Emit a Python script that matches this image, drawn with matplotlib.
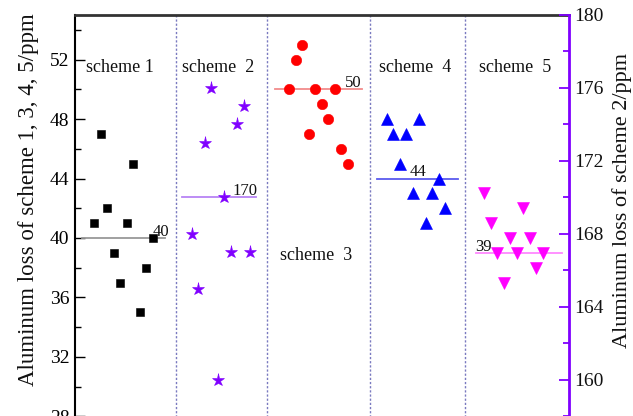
import numpy as np
import matplotlib
matplotlib.use("Agg")
import matplotlib.pyplot as plt
from matplotlib.ticker import MultipleLocator, FixedLocator

plt.rcParams['font.family'] = ['Liberation Serif', 'DejaVu Serif']

# Aluminum loss per sample (ppm); scheme 2 is read on the right axis
loss_s1 = [41, 47, 42, 39, 37, 41, 45, 35, 38, 40]
loss_s2 = [168, 165, 173, 176, 160, 170, 167, 174, 175, 167]
loss_s3 = [50, 52, 53, 47, 50, 49, 48, 50, 46, 45]
loss_s4 = [48, 47, 45, 47, 43, 48, 41, 43, 44, 42]
loss_s5 = [43, 41, 39, 37, 40, 39, 42, 40, 38, 39]

# Average value annotated for each scheme
mean_s1, mean_s2, mean_s3, mean_s4, mean_s5 = 40, 170, 50, 44, 39

scheme_names = ["scheme 1", "scheme  2", "scheme  3", "scheme  4", "scheme  5"]
left_ticks = [28, 32, 36, 40, 44, 48, 52]
right_ticks = [160, 164, 168, 172, 176, 180]

left_label = "Aluminum loss of scheme 1, 3, 4, 5/ppm"
right_label = "Aluminum loss of scheme 2/ppm"

W, H = 633, 416
fig = plt.figure(figsize=(W / 100, H / 100), dpi=100)
ax = fig.add_axes([75 / W, 1 - 461 / H, 493.5 / W, 446 / H])
ax2 = ax.twinx()

ax.set_xlim(0, 76)
ax.set_ylim(25, 55)
ax2.set_ylim(155.56, 180)

purple = '#8000ff'
series = [
    (ax, loss_s1, 's', 'black', 6.0, mean_s1, '#999999'),
    (ax2, loss_s2, '*', purple, 9.5, mean_s2, '#b784f5'),
    (ax, loss_s3, 'o', '#ff0000', 7.5, mean_s3, '#f28b8b'),
    (ax, loss_s4, '^', '#0000ff', 8.0, mean_s4, '#5a5aee'),
    (ax, loss_s5, 'v', '#ff00ff', 8.0, mean_s5, '#ff88ff'),
]

# each scheme occupies a block of 15 slots, 10 samples per block
line_spans = [(1.12, 13.86), (16.43, 27.83), (30.8, 44.24), (46.46, 59.02), (61.75, 74.95)]
label_x = [12.0, 24.3, 41.6, 51.6, 61.6]
for g, (a, vals, mk, col, ms, mval, lcol) in enumerate(series):
    xs = 3 + 15 * g + np.arange(len(vals))
    x0, x1 = line_spans[g]
    a.plot([x0, x1], [mval, mval], color=lcol, lw=1.3, zorder=2)
    a.plot(xs, vals, linestyle='none', marker=mk, color=col, markersize=ms,
           markeredgewidth=0.4, markeredgecolor=col, zorder=3)
    a.annotate(str(mval), xy=(label_x[g], mval), xytext=(0, 1.5),
               textcoords='offset points', ha='left', va='baseline',
               fontsize=12, color='#111111', zorder=4)

# dashed separators between schemes
for xv in [15.5, 29.5, 45.4, 60.0]:
    ax.axvline(xv, color='#7a7ac0', lw=1.0, linestyle=(0, (1.6, 1.4)), zorder=1)

# scheme captions
caption_pos = [(1.69, 51.19), (16.48, 51.19), (31.57, 38.55), (46.82, 51.19), (62.2, 51.19)]
for name, (cx, cy) in zip(scheme_names, caption_pos):
    ax.text(cx, cy, name, ha='left', va='baseline', fontsize=13, color='#111111')

# left axis
ax.yaxis.set_major_locator(FixedLocator(left_ticks))
ax.yaxis.set_minor_locator(MultipleLocator(2))
ax.tick_params(axis='y', which='major', direction='in', length=7, width=1.0,
               labelsize=14, pad=4)
ax.tick_params(axis='y', which='minor', direction='in', length=4, width=1.0)
ax.set_xticks([])
ax.spines['left'].set_linewidth(1.5)
ax.spines['top'].set_linewidth(2.0)
ax.spines['top'].set_color('#333333')
ax.spines['right'].set_visible(False)

# right axis
ax2.yaxis.set_major_locator(FixedLocator(right_ticks))
ax2.yaxis.set_minor_locator(MultipleLocator(2))
ax2.tick_params(axis='y', which='major', direction='in', length=7, width=1.3,
                color=purple, labelsize=14, labelcolor='#111111', pad=4)
ax2.tick_params(axis='y', which='minor', direction='in', length=4, width=1.3,
                color=purple)
ax2.spines['right'].set_color(purple)
ax2.spines['right'].set_linewidth(2.0)
ax2.spines['top'].set_visible(False)
ax2.spines['left'].set_visible(False)
ax2.spines['bottom'].set_visible(False)

fig.text(29 / W, 1 - 200 / H, left_label, rotation=90, ha='center', va='center',
         fontsize=16.5, color='#111111')
fig.text(622 / W, 1 - 200 / H, right_label, rotation=90, ha='center', va='center',
         fontsize=16, color='#111111')

fig.savefig('out.png', dpi=100)
